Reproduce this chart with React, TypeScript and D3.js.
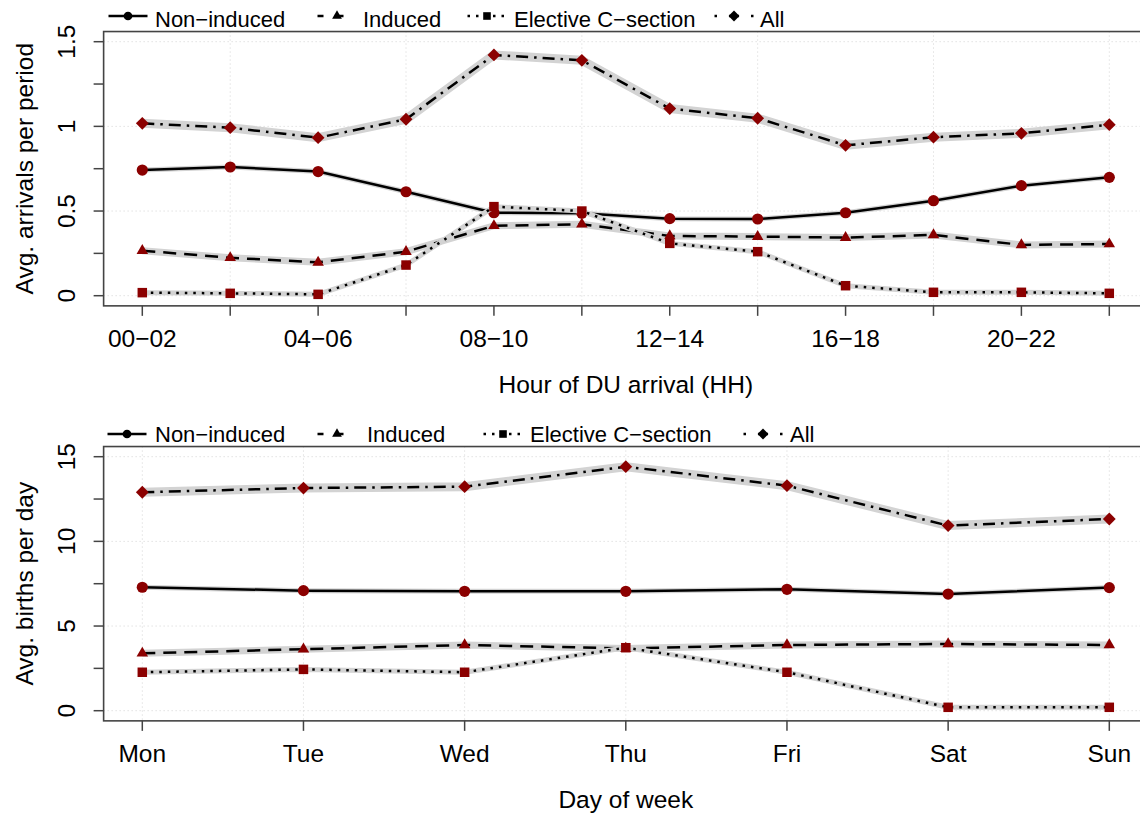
import React from "react";
import * as d3 from "d3";

const FONT = '"Liberation Sans", Arial, Helvetica, sans-serif';
const MARK = "#8b0000";
const BAND = "#d3d3d3";
const AXIS = "#444";

// labels
const seriesNames = ["Non\u2212induced", "Induced", "Elective C\u2212section", "All"];
const hourLabels = [
  "00\u221202", "02\u221204", "04\u221206", "06\u221208", "08\u221210", "10\u221212",
  "12\u221214", "14\u221216", "16\u221218", "18\u221220", "20\u221222", "22\u221224",
];
const dayLabels = ["Mon", "Tue", "Wed", "Thu", "Fri", "Sat", "Sun"];

// avg arrivals per 2h period
const nonInducedHour = [0.742, 0.76, 0.733, 0.614, 0.49, 0.487, 0.455, 0.453, 0.49, 0.561, 0.65, 0.699];
const inducedHour = [0.266, 0.224, 0.197, 0.26, 0.413, 0.422, 0.353, 0.349, 0.343, 0.359, 0.3, 0.305];
const electiveHour = [0.018, 0.014, 0.008, 0.181, 0.526, 0.5, 0.309, 0.26, 0.059, 0.02, 0.02, 0.014];
const allHour = [1.018, 0.992, 0.933, 1.042, 1.422, 1.39, 1.105, 1.048, 0.888, 0.936, 0.959, 1.01];

// avg births per weekday
const nonInducedDay = [7.29, 7.09, 7.05, 7.05, 7.17, 6.89, 7.27];
const inducedDay = [3.39, 3.63, 3.88, 3.68, 3.88, 3.94, 3.88];
const electiveDay = [2.27, 2.44, 2.27, 3.72, 2.27, 0.2, 0.2];
const allDay = [12.9, 13.15, 13.23, 14.41, 13.29, 10.93, 11.32];

const hourTicks = [0, 0.25, 0.5, 0.75, 1, 1.25, 1.5];
const dayTicks = [0, 2.5, 5, 7.5, 10, 12.5, 15];

const styles = [
  { dash: undefined, legendDash: undefined, band: 5, shape: "circle" },
  { dash: "13 8", legendDash: "6 14", band: 7, shape: "triangle" },
  { dash: "2.5 6", legendDash: "2.5 6", band: 5, shape: "square" },
  { dash: "12 6 2.5 6", legendDash: "2.5 12 10 12", band: 9, shape: "diamond" },
];

function symbolPath(shape: string, big: boolean) {
  const k = big ? 1 : 0.85;
  if (shape === "diamond") {
    const r = 6.4 * k;
    return `M0,${-r}L${r},0L0,${r}L${-r},0Z`;
  }
  if (shape === "circle") return d3.symbol(d3.symbolCircle, Math.PI * (5.6 * (big ? 1 : 0.78)) ** 2)()!;
  if (shape === "triangle") return d3.symbol(d3.symbolTriangle, (Math.sqrt(3) / 4) * (11.5 * k) ** 2)()!;
  return d3.symbol(d3.symbolSquare, (9.5 * (big ? 1 : 0.8)) ** 2)()!;
}

type PanelProps = {
  dy: number;
  values: number[][];
  labels: string[];
  labelEvery: number;
  ticks: number[];
  yMax: number;
  yTitle: string;
  xTitle: string;
  gridX: number[];
  legendSym: number[];
  legendText: number[];
  legendLineY: number;
  legendBase: number;
};

function Panel(p: PanelProps) {
  const n = p.labels.length;
  const x = d3.scaleLinear().domain([1, n]).range([142.3, 1109.3]);
  const y = d3.scaleLinear().domain([0, p.yMax]).range([295.7 + p.dy, 41.7 + p.dy]);
  const padX = (n - 1) * 0.04;
  const padY = p.yMax * 0.04;
  const left = x(1 - padX), right = x(n + padX);
  const top = y(p.yMax + padY), bottom = y(-padY);
  const line = d3.line<number>().x((_, i) => x(i + 1)).y((v) => y(v));
  const labelTicks = p.ticks.filter((_, i) => i % 2 === 0);

  return (
    <g>
      {/* grid */}
      {labelTicks.map((t) => (
        <line key={"gy" + t} x1={left} x2={right} y1={y(t)} y2={y(t)} stroke={BAND} strokeWidth={1} strokeDasharray="1 3" />
      ))}
      {p.gridX.map((g) => (
        <line key={"gx" + g} x1={x(g)} x2={x(g)} y1={top} y2={bottom} stroke={BAND} strokeWidth={1} strokeDasharray="1 3" />
      ))}

      {/* series */}
      {p.values.map((vals, s) => (
        <g key={s}>
          <path d={line(vals)!} fill="none" stroke={BAND} strokeWidth={styles[s].band} strokeLinejoin="round" />
          <path d={line(vals)!} fill="none" stroke="#000" strokeWidth={2.5} strokeDasharray={styles[s].dash} />
          {vals.map((v, i) => (
            <path key={i} d={symbolPath(styles[s].shape, true)} transform={`translate(${x(i + 1)},${y(v)})`} fill={MARK} />
          ))}
        </g>
      ))}

      {/* box */}
      <rect x={left} y={top} width={right - left} height={bottom - top} fill="none" stroke={AXIS} strokeWidth={1.6} />

      {/* y axis */}
      {p.ticks.map((t) => (
        <line key={"ty" + t} x1={left - 10} x2={left} y1={y(t)} y2={y(t)} stroke={AXIS} strokeWidth={1.5} />
      ))}
      {labelTicks.map((t) => (
        <text key={"ly" + t} transform={`translate(75,${y(t)}) rotate(-90)`} textAnchor="middle" fontSize={24.5} fontFamily={FONT}>
          {String(t)}
        </text>
      ))}
      <text transform={`translate(33,${(top + bottom) / 2}) rotate(-90)`} textAnchor="middle" fontSize={24.5} fontFamily={FONT}>
        {p.yTitle}
      </text>

      {/* x axis */}
      {p.labels.map((l, i) => (
        <g key={"tx" + i}>
          <line x1={x(i + 1)} x2={x(i + 1)} y1={bottom} y2={bottom + 10} stroke={AXIS} strokeWidth={1.5} />
          {i % p.labelEvery === 0 && (
            <text x={x(i + 1)} y={347 + p.dy} textAnchor="middle" fontSize={24.5} fontFamily={FONT}>
              {l}
            </text>
          )}
        </g>
      ))}
      <text x={(x(1) + x(n)) / 2} y={392.7 + p.dy} textAnchor="middle" fontSize={24.5} fontFamily={FONT}>
        {p.xTitle}
      </text>

      {/* legend */}
      {seriesNames.map((name, s) => (
        <g key={"lg" + s}>
          <line
            x1={p.legendSym[s] - 19.5}
            x2={p.legendSym[s] + 19.5}
            y1={p.legendLineY}
            y2={p.legendLineY}
            stroke="#000"
            strokeWidth={2.5}
            strokeDasharray={styles[s].legendDash}
          />
          <path d={symbolPath(styles[s].shape, false)} transform={`translate(${p.legendSym[s]},${p.legendLineY})`} fill="#000" />
          <text x={p.legendText[s]} y={p.legendBase} fontSize={22} fontFamily={FONT}>
            {name}
          </text>
        </g>
      ))}
    </g>
  );
}

export default function App() {
  return (
    <svg
      width={1140}
      height={814}
      style={{ position: "absolute", left: 0, top: 0, background: "#fff" }}
    >
      <Panel
        dy={0}
        values={[nonInducedHour, inducedHour, electiveHour, allHour]}
        labels={hourLabels}
        labelEvery={2}
        ticks={hourTicks}
        yMax={1.5}
        yTitle="Avg. arrivals per period"
        xTitle="Hour of DU arrival (HH)"
        gridX={[2, 4, 6, 8, 10, 12]}
        legendSym={[128, 337, 487, 734]}
        legendText={[155, 363, 514, 760]}
        legendLineY={16}
        legendBase={26.5}
      />
      <Panel
        dy={415}
        values={[nonInducedDay, inducedDay, electiveDay, allDay]}
        labels={dayLabels}
        labelEvery={1}
        ticks={dayTicks}
        yMax={15}
        yTitle="Avg. births per day"
        xTitle="Day of week"
        gridX={[1, 2, 3, 4, 5, 6, 7]}
        legendSym={[127, 337, 503, 763]}
        legendText={[155, 367, 530, 790]}
        legendLineY={434}
        legendBase={441.5}
      />
    </svg>
  );
}
